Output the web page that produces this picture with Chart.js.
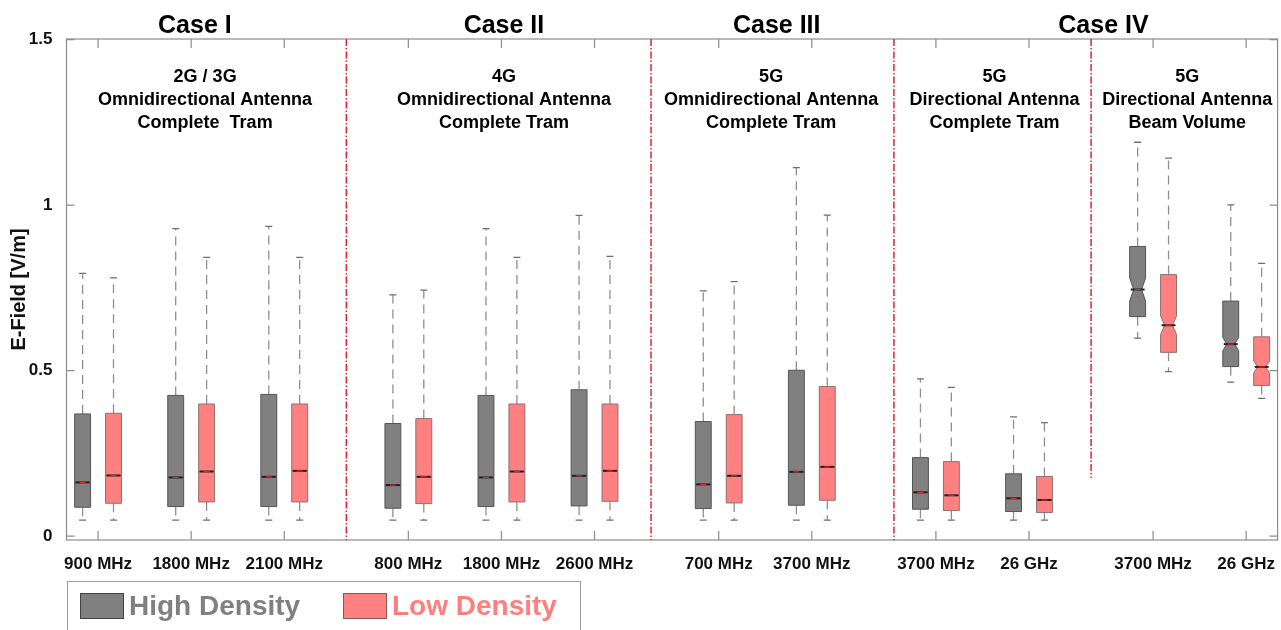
<!DOCTYPE html>
<html>
<head>
<meta charset="utf-8">
<script src="https://cdn.jsdelivr.net/npm/chart.js@4"></script>
<style>
  body { margin: 0; background: #fff; }
  #wrap { position: relative; width: 1281px; height: 630px; overflow: hidden; }
  #legend {
    position: absolute; left: 67px; top: 581px; width: 514px; height: 70px;
    border: 1.5px solid #9a9a9a; box-sizing: border-box;
    font-family: "Liberation Sans", Arial, sans-serif; font-weight: bold; font-size: 28px;
  }
  .sw { position: absolute; top: 11px; width: 44px; height: 26px; box-sizing: border-box; border: 1px solid #444; }
  .lt { position: absolute; top: 7px; line-height: 34px; }
</style>
</head>
<body>
<div id="wrap">
  <canvas id="boxChart" width="1281" height="630"></canvas>
  <div id="legend">
    <div class="sw" style="left:12px;background:#808080;"></div>
    <div class="lt" style="left:61px;color:#808080;">High Density</div>
    <div class="sw" style="left:275px;background:#ff8080;border-color:#8a5555;"></div>
    <div class="lt" style="left:324px;color:#ff7f7f;">Low Density</div>
  </div>
</div>
<script>
// categories and where they sit on the x axis (gaps between cases)
const labels = ['900 MHz', '1800 MHz', '2100 MHz', '800 MHz', '1800 MHz', '2600 MHz',
                '700 MHz', '3700 MHz', '3700 MHz', '26 GHz', '3700 MHz', '26 GHz'];
const positions = [1, 2, 3, 4.333, 5.333, 6.333, 7.667, 8.667, 10, 11, 12.333, 13.333];
const yTicks = [0, 0.5, 1, 1.5];

// High density: whisker low, q1, median, q3, whisker high, notch half height
const highLo  = [0.048, 0.048, 0.048, 0.048, 0.048, 0.048, 0.048, 0.048, 0.048, 0.048, 0.598, 0.465];
const highQ1  = [0.087, 0.089, 0.089, 0.084, 0.089, 0.091, 0.083, 0.093, 0.081, 0.074, 0.663, 0.512];
const highMed = [0.162, 0.177, 0.179, 0.154, 0.177, 0.182, 0.156, 0.194, 0.132, 0.114, 0.745, 0.580];
const highQ3  = [0.369, 0.425, 0.428, 0.340, 0.425, 0.442, 0.346, 0.501, 0.237, 0.188, 0.875, 0.710];
const highHi  = [0.794, 0.929, 0.936, 0.729, 0.929, 0.969, 0.741, 1.113, 0.475, 0.360, 1.190, 1.001];
const highNotch = [0, 0, 0, 0, 0, 0, 0, 0, 0, 0, 0.035, 0.020];

// Low density
const lowLo  = [0.048, 0.048, 0.048, 0.048, 0.048, 0.048, 0.048, 0.048, 0.048, 0.048, 0.497, 0.416];
const lowQ1  = [0.099, 0.103, 0.103, 0.098, 0.103, 0.105, 0.100, 0.108, 0.077, 0.071, 0.555, 0.455];
const lowMed = [0.183, 0.195, 0.197, 0.179, 0.195, 0.197, 0.182, 0.209, 0.123, 0.109, 0.637, 0.511];
const lowQ3  = [0.371, 0.399, 0.399, 0.355, 0.399, 0.399, 0.367, 0.452, 0.225, 0.180, 0.790, 0.602];
const lowHi  = [0.780, 0.842, 0.842, 0.743, 0.842, 0.845, 0.769, 0.970, 0.449, 0.343, 1.142, 0.824];
const lowNotch = [0, 0, 0, 0, 0, 0, 0, 0, 0, 0, 0.028, 0.018];

// case separators (x) and the value where each one stops (from the top)
const separators = [3.667, 6.94, 9.549, 11.667];
const separatorEnd = [-0.012, -0.012, -0.012, 0.175];

const caseTitles = ['Case I', 'Case II', 'Case III', 'Case IV'];
const caseCenters = [2.04, 5.36, 8.29, 11.8];
const subTitles = [
  ['2G / 3G', 'Omnidirectional Antenna', 'Complete  Tram'],
  ['4G', 'Omnidirectional Antenna', 'Complete Tram'],
  ['5G', 'Omnidirectional Antenna', 'Complete Tram'],
  ['5G', 'Directional Antenna', 'Complete Tram'],
  ['5G', 'Directional Antenna', 'Beam Volume']
];
const subCenters = [2.15, 5.36, 8.23, 10.63, 12.70];

const FONT = '"Liberation Sans", Arial, sans-serif';
const BOX_OFF = 0.166, BOX_W = 0.171;

function drawBox(ctx, x, y, cx, lo, q1, med, q3, hi, notch, fill, stroke) {
  const w = x.getPixelForValue(BOX_W) - x.getPixelForValue(0);
  const xl = cx - w / 2, xr = cx + w / 2, ins = w * 0.25;
  const yq1 = y.getPixelForValue(q1), yq3 = y.getPixelForValue(q3), ym = y.getPixelForValue(med);
  const yn1 = y.getPixelForValue(Math.min(med + notch, q3));
  const yn2 = y.getPixelForValue(Math.max(med - notch, q1));
  const ylo = y.getPixelForValue(lo), yhi = y.getPixelForValue(hi);

  // whiskers
  ctx.save();
  ctx.strokeStyle = '#8f8f8f';
  ctx.lineWidth = 1.3;
  ctx.setLineDash([9, 6]);
  ctx.beginPath();
  ctx.moveTo(cx, yq3); ctx.lineTo(cx, yhi);
  ctx.moveTo(cx, yq1); ctx.lineTo(cx, ylo);
  ctx.stroke();
  ctx.setLineDash([]);
  ctx.strokeStyle = '#6f6f6f';
  ctx.beginPath();
  ctx.moveTo(cx - 3.5, yhi); ctx.lineTo(cx + 3.5, yhi);
  ctx.moveTo(cx - 3.5, ylo); ctx.lineTo(cx + 3.5, ylo);
  ctx.stroke();

  // notched box
  ctx.beginPath();
  ctx.moveTo(xl, yq3); ctx.lineTo(xr, yq3); ctx.lineTo(xr, yn1);
  ctx.lineTo(xr - ins, ym); ctx.lineTo(xr, yn2); ctx.lineTo(xr, yq1);
  ctx.lineTo(xl, yq1); ctx.lineTo(xl, yn2); ctx.lineTo(xl + ins, ym);
  ctx.lineTo(xl, yn1); ctx.closePath();
  ctx.fillStyle = fill;
  ctx.fill();
  ctx.strokeStyle = stroke;
  ctx.lineWidth = 1;
  ctx.stroke();

  // median: dark ends, red centre
  ctx.lineWidth = 2;
  ctx.strokeStyle = '#222';
  ctx.beginPath(); ctx.moveTo(xl + 1, ym); ctx.lineTo(xr - 1, ym); ctx.stroke();
  ctx.lineWidth = 1.2;
  ctx.strokeStyle = '#e8202a';
  ctx.beginPath(); ctx.moveTo(xl + ins + 1, ym); ctx.lineTo(xr - ins - 1, ym); ctx.stroke();
  ctx.restore();
}

const boxPlugin = {
  id: 'boxPlugin',
  beforeDatasetsDraw(chart) {
    const { ctx, chartArea: a, scales: { x, y } } = chart;
    ctx.save();
    // frame
    ctx.strokeStyle = '#8c8c8c';
    ctx.lineWidth = 1.2;
    ctx.strokeRect(a.left, a.top, a.right - a.left, a.bottom - a.top);
    // inner ticks
    ctx.beginPath();
    yTicks.forEach(v => {
      const py = y.getPixelForValue(v);
      ctx.moveTo(a.left, py); ctx.lineTo(a.left + 8, py);
      ctx.moveTo(a.right, py); ctx.lineTo(a.right - 8, py);
    });
    positions.forEach(v => {
      const px = x.getPixelForValue(v);
      ctx.moveTo(px, a.bottom); ctx.lineTo(px, a.bottom - 9);
      ctx.moveTo(px, a.top); ctx.lineTo(px, a.top + 9);
    });
    ctx.stroke();
    // separators
    ctx.strokeStyle = '#e0232e';
    ctx.lineWidth = 1.5;
    ctx.setLineDash([7, 2, 1.5, 2]);
    separators.forEach((s, i) => {
      const px = x.getPixelForValue(s);
      ctx.beginPath();
      ctx.moveTo(px, a.top);
      ctx.lineTo(px, y.getPixelForValue(separatorEnd[i]));
      ctx.stroke();
    });
    ctx.restore();

    positions.forEach((p, i) => {
      drawBox(ctx, x, y, x.getPixelForValue(p - BOX_OFF), highLo[i], highQ1[i], highMed[i], highQ3[i], highHi[i],
        highNotch[i], '#808080', '#555555');
      drawBox(ctx, x, y, x.getPixelForValue(p + BOX_OFF), lowLo[i], lowQ1[i], lowMed[i], lowQ3[i], lowHi[i],
        lowNotch[i], '#ff8080', '#8f7070');
    });
  },
  afterDraw(chart) {
    const { ctx, scales: { x } } = chart;
    ctx.save();
    ctx.fillStyle = '#000';
    ctx.textAlign = 'center';
    ctx.textBaseline = 'alphabetic';
    ctx.font = 'bold 25px ' + FONT;
    caseTitles.forEach((t, i) => ctx.fillText(t, x.getPixelForValue(caseCenters[i]), 33));
    ctx.font = 'bold 18px ' + FONT;
    subTitles.forEach((lines, i) => {
      const px = x.getPixelForValue(subCenters[i]);
      lines.forEach((t, j) => ctx.fillText(t, px, 82 + j * 23));
    });
    ctx.restore();
  }
};

new Chart(document.getElementById('boxChart'), {
  type: 'scatter',
  data: {
    datasets: [
      { label: 'High Density', data: positions.map((p, i) => ({ x: p - BOX_OFF, y: highMed[i] })),
        pointRadius: 0, backgroundColor: '#808080' },
      { label: 'Low Density', data: positions.map((p, i) => ({ x: p + BOX_OFF, y: lowMed[i] })),
        pointRadius: 0, backgroundColor: '#ff8080' }
    ]
  },
  options: {
    responsive: false,
    animation: false,
    devicePixelRatio: 1,
    layout: { padding: { top: 39, right: 0, left: 0, bottom: 0 } },
    plugins: { legend: { display: false }, tooltip: { enabled: false } },
    scales: {
      x: {
        type: 'linear',
        min: 0.661,
        max: 13.67,
        grid: { display: false },
        border: { display: false },
        afterFit: s => { s.height = 90; },
        afterBuildTicks: s => { s.ticks = positions.map(v => ({ value: v })); },
        ticks: {
          autoSkip: false,
          maxRotation: 0,
          padding: 6,
          color: '#111',
          font: { family: FONT, weight: 'bold', size: 17 },
          callback: (v, i) => labels[i]
        }
      },
      y: {
        min: -0.012,
        max: 1.502,
        grid: { display: false },
        border: { display: false },
        afterFit: s => { s.width = 66.5; },
        afterBuildTicks: s => { s.ticks = yTicks.map(v => ({ value: v })); },
        ticks: {
          padding: 6,
          color: '#111',
          font: { family: FONT, weight: 'bold', size: 17 },
          callback: v => String(v)
        },
        title: {
          display: true,
          text: 'E-Field [V/m]',
          color: '#111',
          padding: { top: 7, bottom: 0 },
          font: { family: FONT, weight: 'bold', size: 20 }
        }
      }
    }
  },
  plugins: [boxPlugin]
});
</script>
</body>
</html>
